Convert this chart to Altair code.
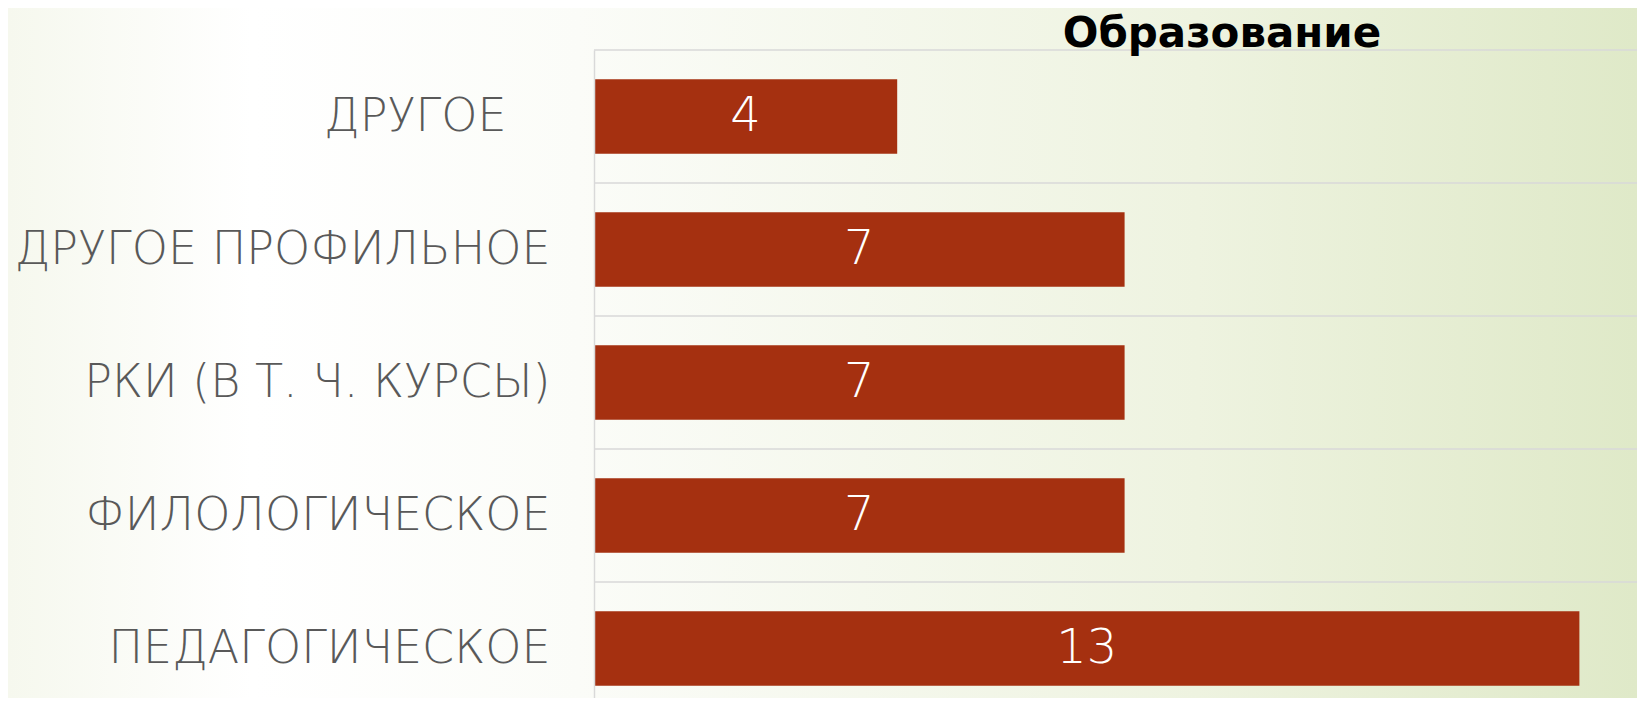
import altair as alt
import pandas as pd

categories = ["ДРУГОЕ", "ДРУГОЕ ПРОФИЛЬНОЕ", "РКИ (В Т. Ч. КУРСЫ)", "ФИЛОЛОГИЧЕСКОЕ", "ПЕДАГОГИЧЕСКОЕ"]
values = [4, 7, 7, 7, 13]
title_text = "Образование"

df = pd.DataFrame({"cat": categories, "val": values})

W, H = 1043, 665
PAD_L, PAD_T, PAD_B = 586, 42, -17
P_INNER, P_OUTER = 0.44, 0.22
STEP = H / (len(categories) - P_INNER + 2 * P_OUTER)

bg_gradient = alt.LinearGradient(
    gradient="linear",
    x1=0, y1=0, x2=1, y2=0,
    stops=[
        alt.GradientStop(offset=0.0, color="#f6f8ee"),
        alt.GradientStop(offset=0.15, color="#ffffff"),
        alt.GradientStop(offset=0.35, color="#fbfcf8"),
        alt.GradientStop(offset=0.73, color="#eef3e0"),
        alt.GradientStop(offset=1.0, color="#dfe9c8"),
    ],
)

background = alt.Chart(pd.DataFrame({"k": [0]})).mark_rect(color=bg_gradient).encode(
    x=alt.value(-PAD_L), x2=alt.value(W), y=alt.value(-PAD_T), y2=alt.value(H)
)

y_scale = alt.Scale(paddingInner=P_INNER, paddingOuter=P_OUTER)

y_enc = alt.Y(
    "cat:N",
    sort=categories,
    scale=y_scale,
    axis=alt.Axis(
        title=None,
        ticks=False,
        grid=False,
        domain=True,
        domainColor="#d9d9d9",
        domainWidth=1.5,
        labelFont="DejaVu Sans",
        labelFontSize=46,
        labelFontWeight=200,
        labelColor="#595959",
        labelPadding={"condition": {"test": "datum.value == 'ДРУГОЕ'", "value": 88}, "value": 44},
        labelLimit=0,
        zindex=1,
    ),
)

x_scale = alt.Scale(domain=[0, 13.76], nice=False, zero=True)

# separator lines at the top edge of each category step
grid = alt.Chart(df).mark_rule(color="#d9d9d9", strokeWidth=1.5, yOffset=-STEP / 2).encode(
    y=alt.Y("cat:N", sort=categories),
    x=alt.value(0),
    x2=alt.value(W),
)

bars = alt.Chart(df).mark_bar(color="#A53010").encode(
    x=alt.X("val:Q", scale=x_scale, axis=None),
    y=y_enc,
)

labels = alt.Chart(df).transform_calculate(mid="datum.val / 2").mark_text(
    color="white", font="DejaVu Sans", fontSize=48, fontWeight=200,
    baseline="middle", align="center"
).encode(
    x=alt.X("mid:Q", scale=x_scale, axis=None),
    y=alt.Y("cat:N", sort=categories),
    text="val:Q",
)

title = alt.Chart(pd.DataFrame({"t": [title_text]})).mark_text(
    font="DejaVu Sans", fontSize=42, fontWeight="bold", color="#000000",
    align="center", baseline="alphabetic"
).encode(
    x=alt.value(628), y=alt.value(-3), text="t:N"
)

chart = alt.layer(background, bars, grid, labels, title).properties(
    width=W,
    height=H,
    autosize=alt.AutoSizeParams(type="none"),
    padding={"left": PAD_L, "top": PAD_T, "right": 0, "bottom": PAD_B},
).configure_view(stroke=None)

chart.save("out.html", embed_options={"renderer": "svg", "actions": False})
